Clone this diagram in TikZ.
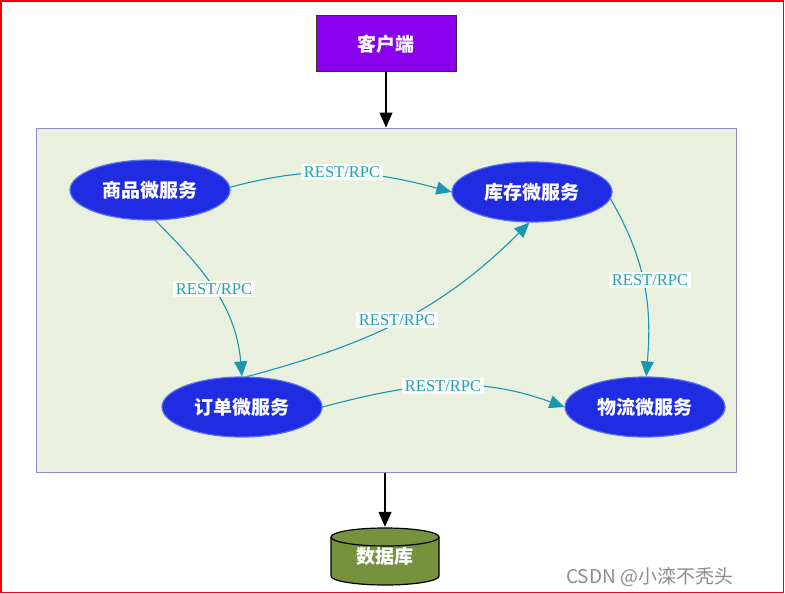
\documentclass[tikz,border=0pt]{standalone}
\usepackage{fontspec}
\setmainfont{Liberation Serif}
\newfontfamily\cjk{Noto Sans CJK SC}
\usetikzlibrary{shapes.geometric,arrows.meta}
\definecolor{clientfill}{RGB}{136,0,236}
\definecolor{contfill}{RGB}{233,240,222}
\definecolor{contborder}{RGB}{140,140,200}
\definecolor{ellfill}{RGB}{32,44,226}
\definecolor{ellborder}{RGB}{90,110,240}
\definecolor{tealline}{RGB}{24,150,178}
\definecolor{tealtext}{RGB}{40,160,180}
\definecolor{dbfill}{RGB}{118,146,60}
\definecolor{framered}{RGB}{240,0,0}
\begin{document}
\begin{tikzpicture}[x=1pt,y=1pt,
  svc/.style={ellipse, draw=ellborder, line width=1.2, fill=ellfill,
    minimum width=160, minimum height=60, inner sep=0,
    font=\cjk\fontsize{19}{22}\selectfont\bfseries, text=white},
  lbl/.style={fill=white, fill opacity=0.85, text opacity=1, text=tealtext,
    font=\fontsize{16.5}{18}\selectfont, inner sep=2.5},
  conn/.style={draw=tealline, line width=1.1, -{Triangle[length=15,width=13]}},
  blk/.style={draw=black, line width=1.1, -{Triangle[length=15,width=13]}}]
\useasboundingbox (0,0) rectangle (785,-594);
\draw[framered, line width=1.6] (0.8,-0.8) rectangle (783.6,-592.6);

% client
\node[draw=black!80, fill=clientfill, line width=1, minimum width=140, minimum height=56,
  inner sep=0, text=white, font=\cjk\fontsize{19}{22}\selectfont\bfseries] (client) at (386,-44) {客户端};

% container
\node[draw=contborder, fill=contfill, line width=1, minimum width=700, minimum height=344,
  inner sep=0] (box) at (386,-300) {};

\draw[blk] (client.south) -- (box.north);

% services
\node[svc] (sp) at (150,-190) {商品微服务};
\node[svc] (kc) at (532,-192) {库存微服务};
\node[svc] (dd) at (242,-407) {订单微服务};
\node[svc] (wl) at (645,-407) {物流微服务};

% connectors
\draw[conn] (sp.2) to[out=15,in=165] (kc.west);
\draw[conn] (sp.-80) to[out=-45,in=95] (dd.north);
\draw[conn] (dd.80) to[out=15,in=-135] (kc.-95);
\draw[conn] (dd.east) to[out=15,in=160] (wl.west);
\draw[conn] (kc.-5) to[out=-60,in=85] (wl.88);

% labels
\node[lbl] (l1) at (342,-172) {REST/RPC};
\node[lbl] (l2) at (214,-289) {REST/RPC};
\node[lbl] (l3) at (397,-320) {REST/RPC};
\node[lbl] (l4) at (443,-386) {REST/RPC};
\node[lbl] (l5) at (650,-280) {REST/RPC};

% database cylinder
\fill[dbfill] (331,-537) -- (331,-576)
  arc[start angle=180, end angle=360, x radius=54, y radius=9] -- (439,-537)
  arc[start angle=0, end angle=180, x radius=54, y radius=9] -- cycle;
\draw[black, line width=1.2] (331,-537) -- (331,-576)
  arc[start angle=180, end angle=360, x radius=54, y radius=9] -- (439,-537);
\draw[black, line width=1.2] (385,-537) ellipse [x radius=54, y radius=9];
\node[minimum width=108, minimum height=58, inner sep=0, text=white,
  font=\cjk\fontsize{19}{22}\selectfont\bfseries] (db) at (385,-556) {数据库};

\draw[blk] (db.north |- box.south) -- (db.north);

% watermark
\node[anchor=west, inner sep=0, text=black!45, font=\cjk\fontsize{19}{21}\selectfont] (wm) at (566,-577) {CSDN @小滦不秃头};
\end{tikzpicture}
\end{document}
